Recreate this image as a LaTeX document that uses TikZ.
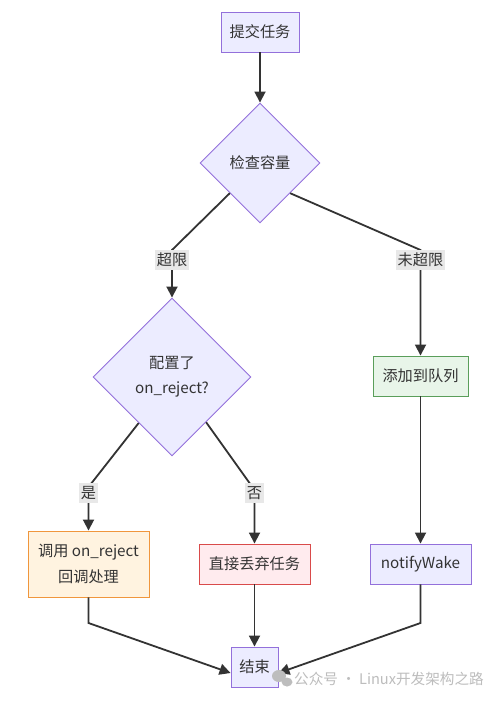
\documentclass[tikz,border=0pt]{standalone}
\usepackage{fontspec}
\setmainfont{Noto Sans CJK SC}
\usetikzlibrary{shapes.geometric,arrows.meta,calc}
\definecolor{txt}{HTML}{333333}
\definecolor{mfill}{HTML}{ECECFF}
\definecolor{mline}{HTML}{9370DB}
\definecolor{lblbg}{HTML}{E8E8E8}
\definecolor{ofill}{HTML}{FFF3E0}
\definecolor{oline}{HTML}{F0963C}
\definecolor{rfill}{HTML}{FFEBEE}
\definecolor{rline}{HTML}{D94A4A}
\definecolor{gfill}{HTML}{E8F5E9}
\definecolor{gline}{HTML}{5A9E5A}
\definecolor{wm}{HTML}{BDBDBD}
\tikzset{
  base/.style={font=\fontsize{15.2}{25}\selectfont, text=txt, inner sep=0pt, align=center},
  procbox/.style={base, draw=mline, fill=mfill, line width=0.9pt, rectangle},
  decide/.style={base, draw=mline, fill=mfill, line width=0.9pt, diamond},
  lbl/.style={base, fill=lblbg, minimum height=20pt, inner xsep=1.5pt},
  flow/.style={draw=txt, line width=1.8pt, -{Triangle[length=11pt,width=11pt]}},
  wmtext/.style={font=\fontsize{14.6}{16}\selectfont, text=wm, inner sep=0pt, anchor=west}
}
\begin{document}
\begin{tikzpicture}[x=1pt,y=-1pt]
\useasboundingbox[fill=white] (0,0) rectangle (499,701);
% nodes
\node[procbox, minimum width=78pt, minimum height=40pt] (submit) at (260,32) {提交任务};
\node[decide, minimum width=120pt, minimum height=120pt] (check) at (260,163) {检查容量};
\node[decide, minimum width=158pt, minimum height=158pt] (cfg) at (172,377) {配置了\\on\_reject?};
\node[procbox, draw=oline, fill=ofill, minimum width=121pt, minimum height=66pt] (call) at (88.5,564) {调用 on\_reject\\[1pt]回调处理};
\node[procbox, draw=rline, fill=rfill, minimum width=111pt, minimum height=40pt] (drop) at (254.5,564) {直接丢弃任务};
\node[procbox, draw=gline, fill=gfill, minimum width=95pt, minimum height=40pt] (add) at (420.5,376) {添加到队列};
\node[procbox, minimum width=101pt, minimum height=40pt] (wake) at (420.5,564) {notifyWake};
\node[procbox, minimum width=47pt, minimum height=40pt] (end) at (254.5,667) {结束};
% bend coordinates
\coordinate (b1) at (172,250);
\coordinate (b2) at (420.5,250);
\coordinate (b3) at (88.5,487);
\coordinate (b4) at (254.5,490);
\coordinate (b5) at (88.5,623);
\coordinate (b6) at (420.5,623);
% edges
\draw[flow] (submit) -- (check.north);
\draw[flow] (check.south west) -- (b1) -- (cfg.north);
\draw[flow] (check.south east) -- (b2) -- (add.north);
\draw[flow] ($(cfg.west)!0.58!(cfg.south)$) -- (b3) -- (call.north);
\draw[flow] ($(cfg.east)!0.57!(cfg.south)$) -- (b4) -- (drop.north);
\draw[flow] (add.south) -- (wake.north);
\draw[flow] (drop.south) -- (end.north);
\draw[flow] (call.south) -- (b5) -- ([yshift=-6pt]end.west);
\draw[flow] (wake.south) -- (b6) -- ([yshift=-6pt]end.east);
% edge labels
\node[lbl] (l1) at (172,260) {超限};
\node[lbl] (l2) at (420.5,260) {未超限};
\node[lbl] (l3) at (88.5,493) {是};
\node[lbl] (l4) at (254.5,493) {否};
% watermark
\fill[wm] (279,676) ellipse (7pt and 6pt);
\fill[wm] (287,682) ellipse (5.5pt and 4.5pt);
\node[wmtext] (wmk) at (294,679) {公众号 · Linux开发架构之路};
\end{tikzpicture}
\end{document}
